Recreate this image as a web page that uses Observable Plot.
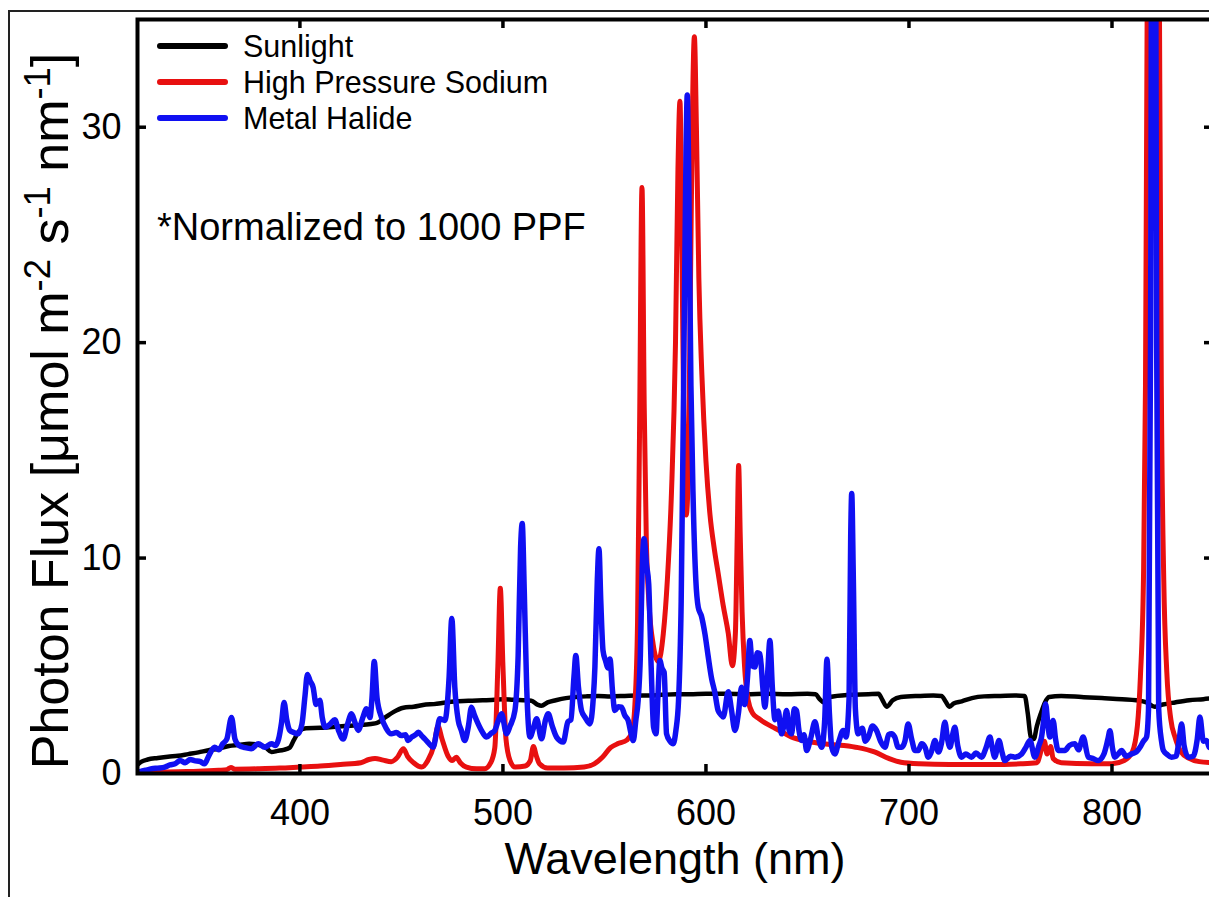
<!DOCTYPE html>
<html><head><meta charset="utf-8">
<script src="https://cdn.jsdelivr.net/npm/d3@7"></script>
<script src="https://cdn.jsdelivr.net/npm/@observablehq/plot@0.6"></script>
<style>
html,body{margin:0;padding:0;background:#fff;overflow:hidden;width:1209px;height:897px;}
#wrap{position:relative;width:1209px;height:897px;overflow:hidden;font-family:"Liberation Sans",Arial,sans-serif;color:#000;}
#border{position:absolute;left:8px;top:10px;width:1400px;height:1200px;border:2px solid #222;box-sizing:border-box;}
#chart{position:absolute;left:0;top:0;}
#ylabel{position:absolute;left:50px;top:411px;transform:translate(-50%,-50%) rotate(-90deg);white-space:nowrap;font-size:52px;line-height:1;}
#ylabel sup{font-size:0.7em;vertical-align:0.5em;line-height:0;}
#xlabel{position:absolute;left:675px;top:858px;transform:translate(-50%,-50%);white-space:nowrap;font-size:45px;line-height:1;}
#legend{position:absolute;left:157px;top:28px;font-size:30.5px;}
#legend .row{display:flex;align-items:center;height:36px;}
#legend .sw{width:71px;height:6px;border-radius:3px;margin-right:15px;}
#note{position:absolute;left:157px;top:205px;font-size:38px;white-space:nowrap;line-height:1.2;}
</style></head>
<body><div id="wrap">
<div id="border"></div>
<div id="chart"></div>
<div id="ylabel">Photon Flux [μmol m<sup>-2</sup> s<sup>-1</sup> nm<sup>-1</sup>]</div>
<div id="xlabel">Wavelength (nm)</div>
<div id="legend"></div>
<div id="note">*Normalized to 1000 PPF</div>
</div>
<script>
// ---- data ----
const seriesNames = ["Sunlight", "High Pressure Sodium", "Metal Halide"];
const seriesColors = ["#000000", "#e81010", "#1010f2"];
const seriesWidths = [4.5, 5, 5.5];
const xTicks = [400, 500, 600, 700, 800];
const yTicks = [0, 10, 20, 30];

const sunNm = [320,322,325,330,335,340,345,350,355,360,365,370,375,380,383,386,389,392,395,397,400,403,410,416,424,430,435,438,442,446,451,456,462,466,472,478,483,490,496,500,505,510,514,517,519,522,526,531,536,541,547,553,560,566,572,578,585,592,600,610,620,630,640,650,654,656,658,661,670,680,685,687,689,692,696,705,712,716,718,720,722,726,731,737,745,752,757,758.5,760,761.5,763,765,767,769,775,785,795,805,812,817,821,825,831,838,845,850];
const sunVal = [0.4,0.55,0.65,0.72,0.78,0.82,0.9,0.98,1.08,1.15,1.28,1.33,1.38,1.32,1.22,1.0,1.05,1.1,1.2,1.55,2.0,2.1,2.12,2.16,2.22,2.25,2.3,2.35,2.6,2.85,3.05,3.1,3.2,3.22,3.3,3.35,3.38,3.4,3.42,3.45,3.42,3.4,3.38,3.2,3.15,3.3,3.4,3.5,3.55,3.58,3.6,3.58,3.6,3.62,3.62,3.65,3.68,3.68,3.7,3.7,3.68,3.7,3.68,3.7,3.68,3.45,3.3,3.55,3.65,3.68,3.7,3.4,3.1,3.4,3.55,3.6,3.62,3.6,3.35,3.1,3.25,3.35,3.5,3.58,3.6,3.62,3.6,2.8,1.7,1.6,2.2,2.8,3.3,3.55,3.6,3.55,3.5,3.45,3.4,3.3,3.1,3.2,3.3,3.4,3.45,3.5];

const hpsNm = [320,330,340,350,360,364,366,368,380,390,400,410,420,430,434,437,441,445,448,451,453,456,460,463,466,468,470,473,475,477,479,482,487,491,494,496,497.5,498.7,500,501.5,503.5,506,511,513.5,515,516.5,518,522,530,540,545,549,553,557,561,563.5,565,566.3,567.3,568.5,569.6,570.6,572,574,576.5,579,581,583,585,586.2,587.2,588.2,589.2,590.3,591.3,592.4,593.4,594.3,595.3,596.5,598,600,602,604,606,608.5,611,613,614.5,615.4,616.1,616.9,617.8,619,620.8,623,626,630,634,638,642,650,658,668,675,683,690,696,705,720,740,755,763,765.5,766.7,768,769.8,771,775,790,800,806,810,812.5,814,815.5,816.5,817.3,818.5,820.5,822.5,823.4,824.3,825.5,827,829,831,834,838,843,850];
const hpsVal = [0.02,0.05,0.08,0.1,0.15,0.18,0.28,0.2,0.22,0.25,0.3,0.35,0.42,0.5,0.65,0.7,0.62,0.55,0.75,1.15,0.8,0.5,0.3,0.6,1.3,2.2,1.6,0.8,0.6,0.75,0.5,0.3,0.22,0.22,0.5,1.2,5,8.6,5,1.6,0.6,0.3,0.35,0.6,1.25,0.8,0.45,0.25,0.25,0.3,0.45,0.75,1.2,1.4,1.55,1.9,3.2,7,16,27.2,17,11,7.8,6,5.2,6.5,9,13,20,28,31.2,24,15.5,12,14,23,31,34.2,30,23,18.5,14.5,12,10.5,9.3,7.8,6.5,5.0,6.5,11,14.3,11,7.5,5,3.4,2.8,2.55,2.3,2.1,1.9,1.7,1.5,1.38,1.3,1.2,1.0,0.7,0.52,0.45,0.42,0.42,0.45,0.5,1.2,1.5,0.9,1.25,0.7,0.5,0.45,0.45,0.6,1.0,2.2,4.5,9,18,35,55,60,55,35,18,9,4.7,2.5,1.7,1.0,0.7,0.55,0.5];

const mhNm = [320,324,327,330,333.5,336,338.5,341,343.5,346,348,351,353,355,358,360,362,364,366.3,368,370,373,376,379.5,382.7,386,388,389.5,391,392.2,393.5,395,397,399,401,402.5,403.7,405,406.5,408,409.8,411,412.5,415,417.2,419,421.3,423.5,425.4,427,428.7,431,432.8,434.5,435.5,436.6,438,440.2,442.5,445,447.5,450,452,453.3,455,457,458.3,460,461.5,463.5,465.6,467.5,468.9,471.4,473.5,474.8,476.3,478,479.5,481.2,483,484.5,486,487.8,490,491.9,494,496,497.5,499.3,501.8,503.5,505.9,507.5,508.7,509.5,510.5,511.7,513.3,515,516.6,519,521,522.3,524.3,526.4,529.7,532,533.5,535,535.9,537.2,538.7,540.5,542.8,544.5,545.3,546.5,547.3,548.2,549.3,550.5,551.8,552.7,554,555.1,556.8,558.4,560,561.7,563,564.2,565.5,566.6,567.7,568.6,569.5,570.7,571.8,573,574.2,575.4,576.3,577.3,578.3,579.4,580.6,582.3,583.9,585.2,586.5,587.8,589,590.2,590.8,591.6,592.6,593.7,595,596.2,597.8,599.5,601,602.8,604.3,606,607.7,608.5,611,612.5,614.3,616,617.5,619,620.5,621.6,622.8,624.1,625.3,626.6,628,629,630.3,631.5,632.7,634,635.6,637.2,638.5,639.7,641,642.2,643.5,644.6,645.8,647.1,648.3,649.6,651.5,653.7,655.3,657,658.5,659.6,660.8,662,663.5,665.5,667.6,669,670.5,671.3,671.8,672.6,673.6,675,677,678.5,680,682,684,686,688.2,690,691.4,693,694.7,696.4,698,699.6,701.3,703,704.6,706.2,708,709.5,711,712.8,714.5,716,717.7,719,720.2,721.5,722.6,724,725.9,728,730.8,733,735.8,738,739.9,741,742.3,744.3,745.8,747.2,750,752.2,755.5,757.5,759.6,762,764,765.3,766.5,767.3,768.3,769.4,771,772.2,773.5,776.8,779,781.7,783.5,785.8,788.3,790.5,793.2,796,798,799,800.2,801.4,803,804.7,807,809.7,812,813.8,815.5,817,818,819,820,821,822,823,824.4,825.3,827,829.3,831.5,833,834.3,835.5,837.6,840,842,843.3,845,846.6,848,850];
const mhVal = [0.05,0.15,0.22,0.25,0.3,0.4,0.45,0.6,0.5,0.65,0.6,0.55,0.45,0.8,1.22,1.1,1.38,1.6,2.6,1.6,1.3,1.2,1.15,1.38,1.22,1.38,1.3,1.6,2.4,3.3,2.5,2.0,1.9,1.84,2.3,3.6,4.6,4.3,4.0,3.2,3.4,2.6,2.15,2.3,2.5,2.0,1.6,2.3,2.77,2.4,2.0,2.6,3.0,2.6,3.5,5.2,3.5,2.6,2.1,1.84,1.9,1.76,1.8,1.53,1.69,1.8,1.92,1.75,1.61,1.4,1.22,2.0,2.54,2.46,4.5,7.2,4.0,2.46,2.0,1.53,2.2,3.08,2.7,2.3,1.9,1.69,1.85,2.0,2.4,2.77,1.84,2.2,2.92,5.5,10.5,11.6,8.5,4.0,1.69,2.1,2.54,1.61,2.5,2.77,2.2,1.69,1.46,2.4,2.5,4.5,5.48,4.0,2.92,2.6,2.3,3.5,4.94,9.0,10.43,8.0,5.7,5.25,4.9,5.32,3.8,2.92,3.1,3.08,2.7,2.46,1.9,1.53,2.5,3.39,5.5,9.5,10.9,9.7,8.8,5.0,2.15,1.84,3.5,5.25,4.9,4.7,1.84,1.5,1.38,2.0,3.39,8.0,18,29,31.5,27,18,12.7,9.0,7.72,7.3,6.48,5.5,4.4,3.8,2.92,2.7,2.62,3.8,3.0,2.0,2.8,4.0,3.2,4.5,6.17,5.0,4.94,5.6,5.55,4.0,3.08,4.5,6.17,4.0,2.5,2.9,1.84,2.3,2.92,2.0,1.84,3.0,2.92,2.0,1.53,1.8,1.07,1.6,2.4,1.7,1.22,2.5,5.3,2.8,1.2,0.91,1.5,2.0,1.7,3.5,11,13,9.0,3.0,1.84,2.1,1.5,1.69,2.2,2.0,1.5,1.22,1.8,1.84,1.69,1.22,1.22,1.5,2.3,1.6,1.07,1.07,1.38,1.2,0.76,1.0,1.53,1.0,1.4,2.38,1.6,1.22,1.8,2.15,1.3,0.76,0.9,0.76,0.95,0.76,1.2,1.69,1.2,0.76,1.53,1.0,0.6,0.8,0.76,0.91,1.2,1.53,0.76,1.3,1.69,2.6,3.23,2.4,1.69,2.46,1.6,1.07,1.07,1.3,1.38,1.1,1.69,0.76,0.7,0.6,0.9,1.6,1.99,1.2,0.76,0.9,1.07,0.8,0.91,1.0,1.22,1.5,1.69,3.0,20,55,55,20,3.0,1.5,1.07,0.9,0.76,0.8,1.5,2.3,1.3,0.76,0.8,1.6,2.62,1.5,1.53,1.2,1.3];

// ---- build tables ----
const toRows = (nm, val) => nm.map((x, i) => ({nm: x, v: val[i]}));
const sun = toRows(sunNm, sunVal);
const hps = toRows(hpsNm, hpsVal);
const mh = toRows(mhNm, mhVal);

const W = 1213, H = 897, mL = 137, mT = 19, mB = 124, mR = 0;
const innerW = W - mL - mR, innerH = H - mT - mB;
const tickLen = 9;

const lineOpts = (i) => ({x: "nm", y: "v", stroke: seriesColors[i], strokeWidth: seriesWidths[i], curve: "monotone-x", clip: true});

const chart = Plot.plot({
  width: W, height: H,
  marginLeft: mL, marginTop: mT, marginBottom: mB, marginRight: mR,
  style: {fontFamily: "Liberation Sans, Arial, sans-serif", fontSize: "36px", color: "#000", background: "transparent", maxWidth: "none", overflow: "visible"},
  x: {domain: [320, 850], axis: null},
  y: {domain: [0, 35], axis: null},
  marks: [
    Plot.line(sun, lineOpts(0)),
    Plot.line(hps, lineOpts(1)),
    Plot.line(mh, lineOpts(2)),
    Plot.frame({stroke: "#000", strokeWidth: 4}),
    Plot.tickX(xTicks, {x: d => d, insetTop: innerH - tickLen, stroke: "#000", strokeWidth: 3.5}),
    Plot.tickX(xTicks, {x: d => d, insetBottom: innerH - tickLen, stroke: "#000", strokeWidth: 3.5}),
    Plot.tickY(yTicks.filter(d => d > 0), {y: d => d, insetRight: innerW - tickLen, stroke: "#000", strokeWidth: 3.5}),
    Plot.tickY(yTicks.filter(d => d > 0), {y: d => d, insetLeft: innerW - tickLen, stroke: "#000", strokeWidth: 3.5}),
    Plot.axisX({ticks: xTicks, tickSize: 0, tickPadding: 26, fontSize: 36, label: null, tickFormat: d => String(d)}),
    Plot.axisY({ticks: yTicks, tickSize: 0, tickPadding: 16, fontSize: 36, label: null, tickFormat: d => String(d)})
  ]
});
document.getElementById("chart").appendChild(chart);

// legend
const leg = document.getElementById("legend");
seriesNames.forEach((n, i) => {
  const row = document.createElement("div");
  row.className = "row";
  const sw = document.createElement("div");
  sw.className = "sw";
  sw.style.background = seriesColors[i];
  const t = document.createElement("span");
  t.textContent = n;
  row.appendChild(sw); row.appendChild(t);
  leg.appendChild(row);
});
</script>
</body></html>
